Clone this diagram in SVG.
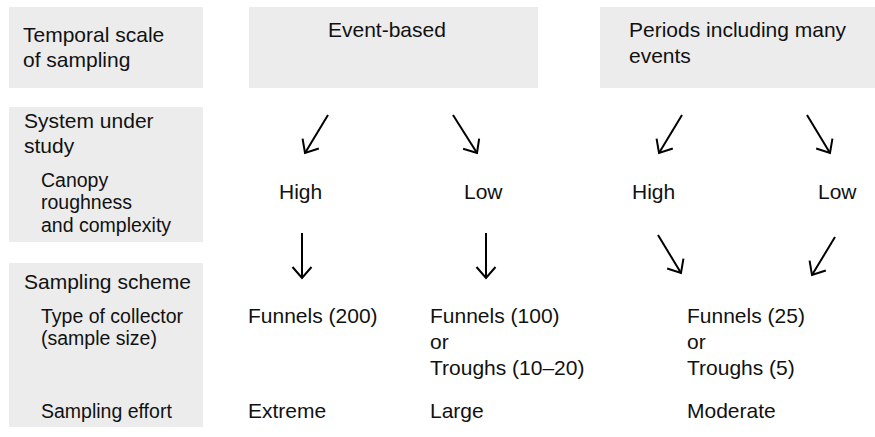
<svg xmlns="http://www.w3.org/2000/svg" width="875" height="437" viewBox="0 0 875 437">
  <defs>
    <style>
      .box { fill: #ececec; }
      .t { font-family: "Liberation Sans", Arial, sans-serif; font-size: 21px; fill: #111; }
      .s { font-family: "Liberation Sans", Arial, sans-serif; font-size: 19.5px; fill: #111; }
      .arr { stroke: #000; stroke-width: 2; fill: none; marker-end: url(#ah); }
    </style>
    <marker id="ah" markerUnits="userSpaceOnUse" markerWidth="30" markerHeight="30" viewBox="-15 -15 30 30" refX="0" refY="0" orient="auto">
      <path d="M-11,-9.5 L0,0 L-11,9.5" fill="none" stroke="#000" stroke-width="2" stroke-linejoin="miter"/>
    </marker>
  </defs>
  <rect width="875" height="437" fill="#fff"/>

  <g id="temporal-label">
    <rect class="box" x="9" y="7" width="194" height="81"/>
    <text class="t" x="23" y="42">Temporal scale</text>
    <text class="t" x="23" y="67">of sampling</text>
  </g>
  <g id="event-based">
    <rect class="box" x="249" y="7" width="289" height="81"/>
    <text class="t" x="328" y="37">Event-based</text>
  </g>
  <g id="periods">
    <rect class="box" x="600" y="7" width="275" height="81"/>
    <text class="t" x="629" y="37">Periods including many</text>
    <text class="t" x="629" y="63">events</text>
  </g>
  <g id="system-label">
    <rect class="box" x="9" y="107" width="194" height="135"/>
    <text class="t" x="24" y="128">System under</text>
    <text class="t" x="24" y="153">study</text>
    <text class="s" x="41" y="187">Canopy</text>
    <text class="s" x="41" y="209">roughness</text>
    <text class="s" x="41" y="232">and complexity</text>
  </g>
  <g id="sampling-label">
    <rect class="box" x="9" y="263" width="194" height="164"/>
    <text class="t" x="24" y="289">Sampling scheme</text>
    <text class="s" x="41" y="323">Type of collector</text>
    <text class="s" x="41" y="345">(sample size)</text>
    <text class="s" x="41" y="418">Sampling effort</text>
  </g>

  <g id="high-1"><text class="t" x="279" y="199">High</text></g>
  <g id="low-1"><text class="t" x="464" y="199">Low</text></g>
  <g id="high-2"><text class="t" x="632" y="199">High</text></g>
  <g id="low-2"><text class="t" x="818" y="199">Low</text></g>

  <g id="collector-1">
    <text class="t" x="248" y="323">Funnels (200)</text>
    <text class="t" x="248" y="418">Extreme</text>
  </g>
  <g id="collector-2">
    <text class="t" x="430" y="323">Funnels (100)</text>
    <text class="t" x="430" y="349">or</text>
    <text class="t" x="430" y="375">Troughs (10–20)</text>
    <text class="t" x="430" y="418">Large</text>
  </g>
  <g id="collector-3">
    <text class="t" x="687" y="323">Funnels (25)</text>
    <text class="t" x="687" y="349">or</text>
    <text class="t" x="687" y="375">Troughs (5)</text>
    <text class="t" x="687" y="418">Moderate</text>
  </g>

  <g id="connectors">
    <line class="arr" x1="328" y1="115" x2="305" y2="153"/>
    <line class="arr" x1="453" y1="115" x2="477" y2="153"/>
    <line class="arr" x1="682" y1="115" x2="659" y2="153"/>
    <line class="arr" x1="807" y1="115" x2="830" y2="153"/>
    <line class="arr" x1="302" y1="233" x2="302" y2="278"/>
    <line class="arr" x1="486" y1="233" x2="486" y2="278"/>
    <line class="arr" x1="658" y1="235" x2="681" y2="273"/>
    <line class="arr" x1="835" y1="237" x2="812" y2="275"/>
  </g>
</svg>
